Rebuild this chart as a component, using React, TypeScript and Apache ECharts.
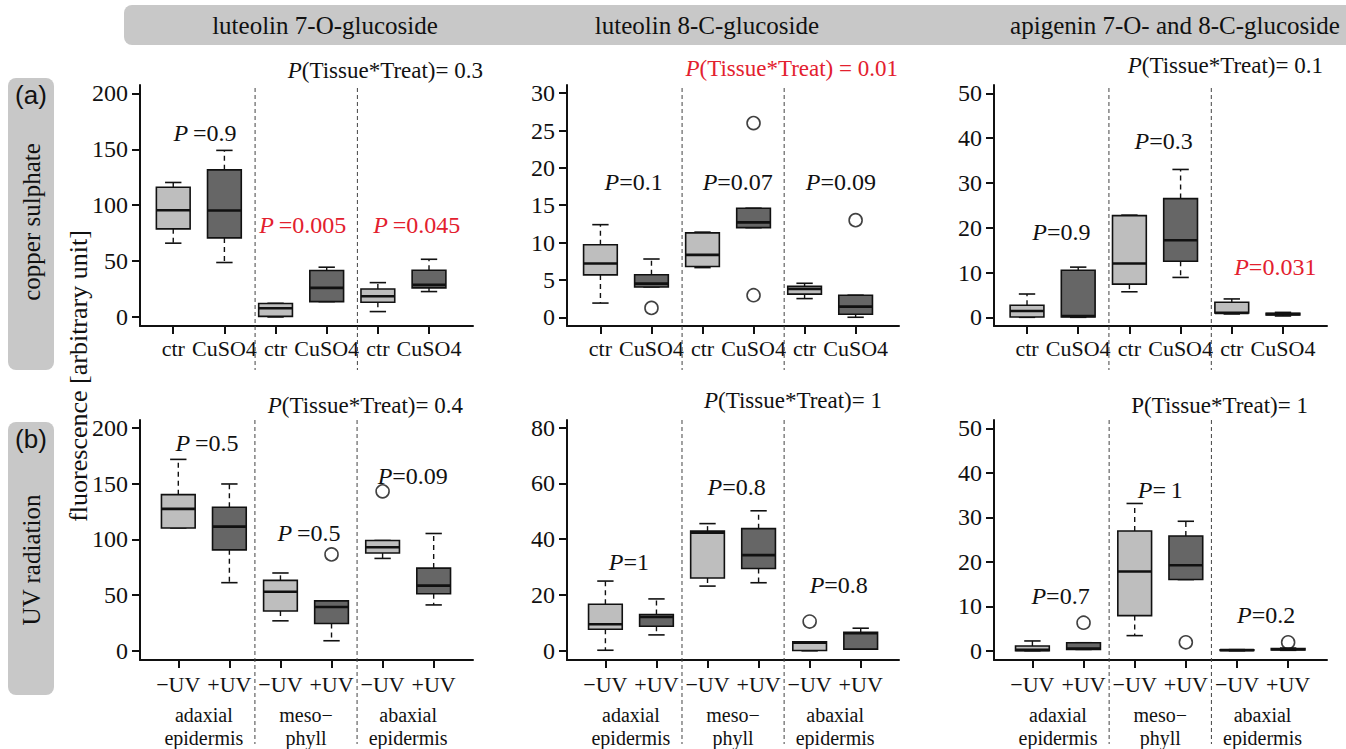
import React, { useEffect, useRef } from 'react';
import * as echarts from 'echarts';

const SERIF = '"Liberation Serif", "Times New Roman", serif';
const SANS = '"Liberation Sans", Arial, sans-serif';
const RED = '#e3202e';
const INK = '#111111';

// ---------- texts ----------
const compoundNames = ['luteolin 7-O-glucoside', 'luteolin 8-C-glucoside', 'apigenin 7-O- and 8-C-glucoside'];
const rowLetters = ['(a)', '(b)'];
const rowNames = ['copper sulphate', 'UV radiation'];
const yTitle = 'fluorescence [arbitrary unit]';
const copperTickLabels = ['ctr', 'CuSO4', 'ctr', 'CuSO4', 'ctr', 'CuSO4'];
const uvTickLabels = ['\u2212UV', '+UV', '\u2212UV', '+UV', '\u2212UV', '+UV'];
const tissueLabels = ['adaxial\nepidermis', 'meso\u2212\nphyll', 'abaxial\nepidermis'];

// ---------- box statistics: [min, lower hinge, median, upper hinge, max] ----------
const copperLut7O = [
  [66, 78.8, 95.5, 116, 120.3],
  [48.7, 70.7, 95.2, 131.6, 149],
  [0, 0.5, 7.8, 12, 12.2],
  [13.7, 13.7, 26, 41.5, 44.5],
  [4.8, 13.1, 18.5, 25, 30.7],
  [22.7, 26, 28.7, 41.8, 51.6],
];
const copperLut8C = [
  [1.9, 5.67, 7.2, 9.7, 12.4],
  [4.06, 4.06, 4.5, 5.7, 7.8],
  [6.65, 6.8, 8.35, 11.3, 11.4],
  [12.0, 12.0, 12.7, 14.6, 14.6],
  [2.5, 3.1, 3.8, 4.15, 4.55],
  [0, 0.4, 1.43, 2.95, 2.95],
];
const copperApi = [
  [0, 0.07, 1.4, 2.7, 5.2],
  [0, 0.07, 0.3, 10.5, 11.2],
  [5.7, 7.4, 12, 22.7, 22.8],
  [8.9, 12.5, 17.2, 26.5, 33],
  [0.75, 0.97, 1.0, 3.35, 4.1],
  [0.3, 0.5, 0.7, 0.9, 1.1],
];
const uvLut7O = [
  [110.4, 110.4, 127.5, 140.3, 172],
  [61.2, 90.7, 111.6, 129, 149.9],
  [26.9, 35.8, 53.1, 63.3, 69.9],
  [9, 24.5, 39.4, 44.8, 44.8],
  [83, 87.8, 93.1, 99.1, 99.1],
  [41.2, 51.3, 58.5, 74.3, 105.4],
];
const uvLut8C = [
  [0.2, 7.7, 9.5, 16.7, 25],
  [5.7, 8.8, 12.1, 13, 18.6],
  [23.2, 26.1, 42.3, 42.9, 45.6],
  [24.4, 29.5, 34.3, 43.8, 50.2],
  [0, 0.1, 2.9, 3.2, 3.2],
  [0.6, 0.6, 6.3, 6.6, 8.1],
];
const uvApi = [
  [0, 0, 0.2, 1.05, 2.2],
  [0.3, 0.3, 0.5, 1.8, 1.8],
  [3.4, 7.9, 17.8, 26.9, 33.1],
  [16, 16, 19.2, 25.8, 29.1],
  [0, 0.1, 0.15, 0.2, 0.25],
  [0.1, 0.2, 0.35, 0.5, 0.6],
];

// ---------- outliers: [box position, value] ----------
const copperLut7OOut: number[][] = [];
const copperLut8COut = [[2, 1.25], [4, 26], [4, 2.95], [6, 13]];
const copperApiOut: number[][] = [];
const uvLut7OOut = [[4, 86.6], [5, 143.3]];
const uvLut8COut = [[5, 10.5]];
const uvApiOut = [[2, 6.3], [4, 1.9], [6, 1.9]];

// ---------- y tick values ----------
const yTicks200 = [0, 50, 100, 150, 200];
const yTicks30 = [0, 5, 10, 15, 20, 25, 30];
const yTicks50 = [0, 10, 20, 30, 40, 50];
const yTicks80 = [0, 20, 40, 60, 80];

// ---------- P values per tissue ----------
const copperLut7OP = ['\u2009=0.9', '\u2009=0.005', '\u2009=0.045'];
const copperLut7OSig = [false, true, true];
const copperLut8CP = ['=0.1', '=0.07', '=0.09'];
const copperLut8CSig = [false, false, false];
const copperApiP = ['=0.9', '=0.3', '=0.031'];
const copperApiSig = [false, false, true];
const uvLut7OP = ['\u2009=0.5', '\u2009=0.5', '=0.09'];
const uvLut7OSig = [false, false, false];
const uvLut8CP = ['=1', '=0.8', '=0.8'];
const uvLut8CSig = [false, false, false];
const uvApiP = ['=0.7', '=\u20091', '=0.2'];
const uvApiSig = [false, false, false];

// interaction P(Tissue*Treat)
const interactionText = ['= 0.3', ' = 0.01', '= 0.1', '= 0.4', '= 1', '= 1'];
const interactionSig = [false, true, false, false, false, false];
const interactionItalic = [true, true, true, true, true, false];

// ---------- layout (not data) ----------
const gridLefts = [140, 567, 994];
const gridWidths = [333, 332, 333];
const gridTops = [85, 420];
const gridHeight = 241;

const panels = [
  { row: 0, col: 0, stats: copperLut7O, out: copperLut7OOut, ticks: yTicks200, y: [-8.1, 207.5], x: [0.35, 6.86], p: copperLut7OP, sig: copperLut7OSig, pPos: [[1.62, 164.5], [3.53, 82], [5.76, 82]], divs: [2.6, 4.6], iRight: 483, iY: 70 },
  { row: 0, col: 1, stats: copperLut8C, out: copperLut8COut, ticks: yTicks30, y: [-1.17, 31.1], x: [0.345, 6.85], p: copperLut8CP, sig: copperLut8CSig, pPos: [[1.65, 18.1], [3.69, 18.1], [5.71, 18.1]], divs: [2.6, 4.6], iRight: 898, iY: 68 },
  { row: 0, col: 2, stats: copperApi, out: copperApiOut, ticks: yTicks50, y: [-1.94, 51.85], x: [0.355, 6.86], p: copperApiP, sig: copperApiSig, pPos: [[1.67, 19.0], [3.67, 39.4], [5.85, 11.3]], divs: [2.6, 4.6], iRight: 1323, iY: 65 },
  { row: 1, col: 0, stats: uvLut7O, out: uvLut7OOut, ticks: yTicks200, y: [-8.3, 207.4], x: [0.25, 6.77], p: uvLut7OP, sig: uvLut7OSig, pPos: [[1.56, 186.6], [3.56, 106], [5.59, 156.7]], divs: [2.5, 4.5], iRight: 463, iY: 405 },
  { row: 1, col: 1, stats: uvLut8C, out: uvLut8COut, ticks: yTicks80, y: [-3.3, 82.75], x: [0.248, 6.75], p: uvLut8CP, sig: uvLut8CSig, pPos: [[1.46, 31.8], [3.57, 58.7], [5.57, 23.5]], divs: [2.5, 4.5], iRight: 882, iY: 400 },
  { row: 1, col: 2, stats: uvApi, out: uvApiOut, ticks: yTicks50, y: [-2.08, 51.86], x: [0.249, 6.76], p: uvApiP, sig: uvApiSig, pPos: [[1.55, 12.3], [3.5, 36.2], [5.57, 8.0]], divs: [2.5, 4.5], iRight: 1308, iY: 405 },
];

const LIGHT = '#bebebe';
const DARK = '#666666';

function buildOption() {
  const grid: any[] = [];
  const xAxis: any[] = [];
  const yAxis: any[] = [];
  const series: any[] = [];
  const graphic: any[] = [];

  panels.forEach((p, i) => {
    grid.push({ left: gridLefts[p.col], top: gridTops[p.row], width: gridWidths[p.col], height: gridHeight });
    const labels = p.row === 0 ? copperTickLabels : uvTickLabels;
    const xi = xAxis.length;
    xAxis.push({
      type: 'value', gridIndex: i, min: p.x[0], max: p.x[1], position: 'bottom',
      axisLine: { show: true, onZero: false, lineStyle: { color: INK, width: 2 } },
      axisTick: { show: true, customValues: [1, 2, 3, 4, 5, 6], length: 8, lineStyle: { color: INK, width: 2 } },
      axisLabel: {
        show: true, customValues: [1, 2, 3, 4, 5, 6],
        formatter: (v: number) => labels[Math.round(v) - 1] || '',
        margin: p.row === 0 ? 11 : 13, fontSize: 22, fontFamily: SERIF, color: INK,
      },
      splitLine: { show: false },
    });
    if (p.row === 1) {
      xAxis.push({
        type: 'value', gridIndex: i, min: p.x[0], max: p.x[1], position: 'bottom',
        axisLine: { show: false }, axisTick: { show: false }, splitLine: { show: false },
        axisLabel: {
          show: true, customValues: [1.5, 3.5, 5.5],
          formatter: (v: number) => tissueLabels[Math.round((v - 1.5) / 2)] || '',
          margin: 43, lineHeight: 23, fontSize: 20, fontFamily: SERIF, color: INK,
        },
      });
    }
    yAxis.push({
      type: 'value', gridIndex: i, min: p.y[0], max: p.y[1],
      axisLine: { show: true, onZero: false, lineStyle: { color: INK, width: 2 } },
      axisTick: { show: true, customValues: p.ticks, length: 8, lineStyle: { color: INK, width: 2 } },
      axisLabel: { show: true, customValues: p.ticks, margin: 12, fontSize: 24, fontFamily: SERIF, color: INK },
      splitLine: { show: false },
    });

    const yTop = p.y[1];
    const yBot = p.y[0];
    const extTop = p.row === 0 ? 3 : 0;
    const extBot = p.row === 0 ? 44 : 84;

    // dividers
    series.push({
      type: 'custom', xAxisIndex: xi, yAxisIndex: i, clip: false, silent: true,
      encode: { x: 0, y: 1 },
      data: p.divs.map((d) => [d, yBot]),
      renderItem: (params: any, api: any) => {
        const x = api.value(0);
        const a = api.coord([x, yTop]);
        const b = api.coord([x, yBot]);
        return {
          type: 'line',
          shape: { x1: a[0], y1: a[1] + extTop, x2: b[0], y2: b[1] + extBot },
          style: { stroke: '#444', lineWidth: 1, lineDash: [4, 3] },
        };
      },
    });

    // boxes
    series.push({
      type: 'custom', xAxisIndex: xi, yAxisIndex: i, clip: false,
      encode: { x: 0, y: [1, 2, 3, 4, 5] },
      data: p.stats.map((s, k) => [k + 1, s[0], s[1], s[2], s[3], s[4], k % 2]),
      renderItem: (params: any, api: any) => {
        const x = api.value(0);
        const mn = api.value(1), q1 = api.value(2), md = api.value(3), q3 = api.value(4), mx = api.value(5);
        const dark = api.value(6) === 1;
        const hw = 0.33, cw = 0.16;
        const c = (xx: number, yy: number) => api.coord([xx, yy]);
        const children: any[] = [];
        const dashed = { stroke: INK, lineWidth: 1.4, lineDash: [5, 4] };
        const solid = { stroke: INK, lineWidth: 1.6 };
        const tU = c(x, q3), tM = c(x, mx), bL = c(x, q1), bM = c(x, mn);
        if (mx > q3) children.push({ type: 'line', shape: { x1: tU[0], y1: tU[1], x2: tM[0], y2: tM[1] }, style: dashed });
        if (mn < q1) children.push({ type: 'line', shape: { x1: bL[0], y1: bL[1], x2: bM[0], y2: bM[1] }, style: dashed });
        const capT1 = c(x - cw, mx), capT2 = c(x + cw, mx);
        const capB1 = c(x - cw, mn), capB2 = c(x + cw, mn);
        children.push({ type: 'line', shape: { x1: capT1[0], y1: capT1[1], x2: capT2[0], y2: capT2[1] }, style: solid });
        children.push({ type: 'line', shape: { x1: capB1[0], y1: capB1[1], x2: capB2[0], y2: capB2[1] }, style: solid });
        const tl = c(x - hw, q3), br = c(x + hw, q1);
        children.push({
          type: 'rect',
          shape: { x: tl[0], y: tl[1], width: br[0] - tl[0], height: Math.max(br[1] - tl[1], 0.5) },
          style: { fill: dark ? DARK : LIGHT, stroke: INK, lineWidth: 1.6 },
        });
        const m1 = c(x - hw, md), m2 = c(x + hw, md);
        children.push({ type: 'line', shape: { x1: m1[0], y1: m1[1], x2: m2[0], y2: m2[1] }, style: { stroke: INK, lineWidth: 2.6 } });
        return { type: 'group', children };
      },
    });

    // outliers
    if (p.out.length) {
      series.push({
        type: 'scatter', xAxisIndex: xi, yAxisIndex: i, symbol: 'circle', symbolSize: 13,
        itemStyle: { color: 'rgba(255,255,255,0)', borderColor: INK, borderWidth: 1.6 },
        data: p.out,
        silent: true,
      });
    }

    // P labels per tissue
    series.push({
      type: 'custom', xAxisIndex: xi, yAxisIndex: i, clip: false, silent: true,
      encode: { x: 0, y: 1 },
      data: p.pPos.map((pos, k) => [pos[0], pos[1], k]),
      renderItem: (params: any, api: any) => {
        const k = api.value(2);
        const pt = api.coord([api.value(0), api.value(1)]);
        const col = p.sig[k] ? RED : INK;
        return {
          type: 'text', x: pt[0], y: pt[1],
          style: {
            text: '{i|P}{n|' + p.p[k] + '}',
            align: 'center', verticalAlign: 'middle',
            rich: {
              i: { fontStyle: 'italic', fontSize: 24, fontFamily: SERIF, fill: col, color: col },
              n: { fontSize: 24, fontFamily: SERIF, fill: col, color: col },
            },
          },
        };
      },
    });

    // interaction label
    const icol = interactionSig[i] ? RED : INK;
    graphic.push({
      type: 'text', x: p.iRight, y: p.iY, silent: true,
      style: {
        text: '{i|P}{n|(Tissue*Treat)' + interactionText[i] + '}',
        align: 'right', verticalAlign: 'middle',
        rich: {
          i: { fontStyle: interactionItalic[i] ? 'italic' : 'normal', fontSize: 23, fontFamily: SERIF, fill: icol },
          n: { fontSize: 23, fontFamily: SERIF, fill: icol },
        },
      },
    });
  });

  // header bar
  graphic.push({ type: 'rect', shape: { x: 124, y: 5, width: 1240, height: 40, r: 8 }, style: { fill: '#c8c8c8' }, z: -1 });
  const headerCenters = [325, 707, 1175];
  compoundNames.forEach((n, k) => {
    graphic.push({ type: 'text', x: headerCenters[k], y: 25, style: { text: n, fontSize: 25, fontFamily: SERIF, fill: INK, align: 'center', verticalAlign: 'middle' } });
  });

  // row boxes
  const rowBox = [[78, 292], [422, 273]];
  const rowTextCenters = [222, 560];
  rowBox.forEach((b, k) => {
    graphic.push({ type: 'rect', shape: { x: 8, y: b[0], width: 46, height: b[1], r: 8 }, style: { fill: '#c8c8c8' }, z: -1 });
    graphic.push({ type: 'text', x: 31, y: b[0] + 17, style: { text: rowLetters[k], fontSize: 26, fontFamily: SANS, fill: INK, align: 'center', verticalAlign: 'middle' } });
    graphic.push({ type: 'text', x: 31, y: rowTextCenters[k], rotation: Math.PI / 2, style: { text: rowNames[k], fontSize: 25, fontFamily: SERIF, fill: INK, align: 'center', verticalAlign: 'middle' } });
  });

  // y axis title
  graphic.push({ type: 'text', x: 78, y: 376, rotation: Math.PI / 2, style: { text: yTitle, fontSize: 26, fontFamily: SERIF, fill: INK, align: 'center', verticalAlign: 'middle' } });

  return { animation: false, backgroundColor: '#ffffff', grid, xAxis, yAxis, series, graphic };
}

export default function App() {
  const ref = useRef<HTMLDivElement>(null);
  useEffect(() => {
    if (!ref.current) return;
    const chart = echarts.init(ref.current, undefined, { renderer: 'svg' });
    chart.setOption(buildOption() as any);
    return () => chart.dispose();
  }, []);
  return <div ref={ref} style={{ position: 'fixed', left: 0, top: 0, width: 1346, height: 749, background: '#fff' }} />;
}
